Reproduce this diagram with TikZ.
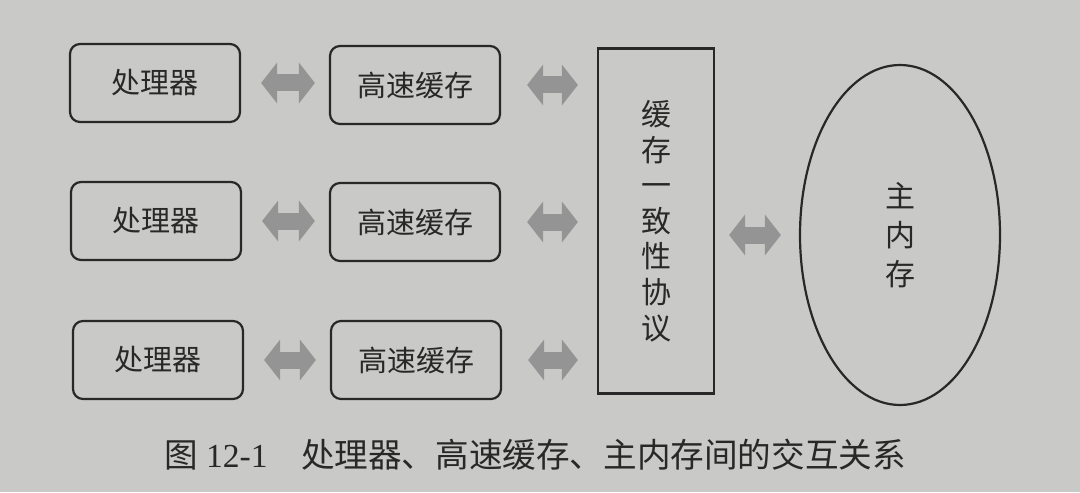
\documentclass[tikz,border=0pt]{standalone}
\usepackage{fontspec}
\setmainfont{Liberation Serif}
\newfontfamily\cjk{Noto Sans CJK SC}
\usetikzlibrary{shapes.geometric,arrows.meta,calc}
\definecolor{paper}{RGB}{201,201,199}
\definecolor{ink}{RGB}{40,40,40}
\definecolor{arrowgray}{RGB}{148,148,148}
\tikzset{
  boxstyle/.style={draw=ink, line width=1.1pt, rounded corners=5pt, minimum width=85pt, minimum height=39pt, font=\cjk\fontsize{14.5}{17}\selectfont, text=ink},
  protostyle/.style={draw=ink, line width=1.1pt, minimum width=58pt, minimum height=172.5pt, align=center, font=\cjk\fontsize{15}{17.8}\selectfont, text=ink},
  memstyle/.style={draw=ink, line width=1.1pt, ellipse, minimum width=100pt, minimum height=170pt, align=center, font=\cjk\fontsize{15}{19.5}\selectfont, text=ink},
  fatarrow/.style 2 args={arrowgray, line width=8.5pt, {Triangle[width=20pt,length=8pt]}-{Triangle[width=20pt,length=8pt]}, shorten <=#1, shorten >=#2},
  captionstyle/.style={font=\fontsize{16.8}{20}\selectfont, text=ink}
}
\begin{document}
\begin{tikzpicture}[x=0.5pt,y=-0.5pt]
\fill[paper] (0,0) rectangle (1080,492);
\useasboundingbox (0,0) rectangle (1080,492);

\node[boxstyle] (p1) at (155,83) {处理器};
\node[boxstyle] (p2) at (156,221) {处理器};
\node[boxstyle] (p3) at (158,360) {处理器};

\node[boxstyle] (c1) at (415,85) {高速缓存};
\node[boxstyle] (c2) at (415,222) {高速缓存};
\node[boxstyle] (c3) at (416,360) {高速缓存};

\node[protostyle] (proto) at (656,221) {缓\\存\\一\\致\\性\\协\\议};
\node[memstyle] (mem) at (900,235) {主\\内\\存};

\draw[fatarrow={10pt}{7pt}] (p1.east) -- (c1.west |- p1.east);
\draw[fatarrow={10pt}{7pt}] (p2.east) -- (c2.west |- p2.east);
\draw[fatarrow={10pt}{7pt}] (p3.east) -- (c3.west |- p3.east);

\draw[fatarrow={13pt}{9.5pt}] (c1.east) -- (proto.west |- c1.east);
\draw[fatarrow={13pt}{9.5pt}] (c2.east) -- (proto.west |- c2.east);
\draw[fatarrow={13pt}{9.5pt}] (c3.east) -- (proto.west |- c3.east);

\draw[fatarrow={7pt}{9pt}] (proto.east |- mem.west) -- (mem.west);

\node[captionstyle] (cap) at (535,455) {{\cjk 图} 12-1\quad{\cjk 处理器、高速缓存、主内存间的交互关系}};
\end{tikzpicture}
\end{document}
